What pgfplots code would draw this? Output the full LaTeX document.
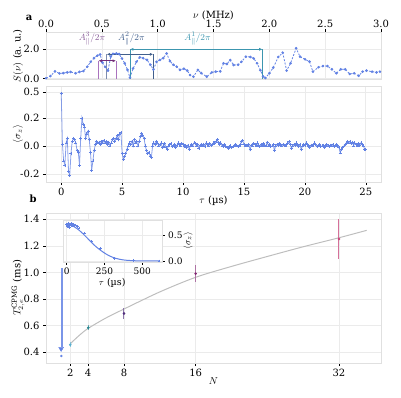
\documentclass[border=0pt]{standalone}
\usepackage{fontspec}
\setmainfont{DejaVu Serif}
\usepackage{pgfplots}
\pgfplotsset{compat=1.18}
\usetikzlibrary{arrows.meta}
\definecolor{cblue}{RGB}{98,130,228}
\definecolor{aone}{RGB}{60,150,175}
\definecolor{atwo}{RGB}{65,95,140}
\definecolor{atwol}{RGB}{125,140,175}
\definecolor{athree}{RGB}{115,45,120}
\definecolor{athreel}{RGB}{170,115,190}
\definecolor{ntwo}{RGB}{90,175,205}
\definecolor{nfour}{RGB}{40,135,145}
\definecolor{neight}{RGB}{80,45,125}
\definecolor{nsixteen}{RGB}{130,40,115}
\definecolor{nthirtytwo}{RGB}{200,65,120}
\definecolor{fitgray}{RGB}{190,190,190}
\begin{document}
\begin{tikzpicture}
\path[use as bounding box] (0pt,0pt) rectangle (401pt,397pt);
\pgfplotsset{myaxis/.style={scale only axis,
  axis line style={draw=black!12},
  grid=major, grid style={draw=black!8, line width=0.6pt},
  tick align=outside, major tick length=3pt,
  major tick style={black, line width=0.5pt},
  tick label style={font=\fontsize{10}{12}\selectfont},
  label style={font=\fontsize{10}{12}\selectfont},
  /pgf/number format/assume math mode=true,
  xtick pos=left, ytick pos=left}}
% ---------------- a: spectrum
\begin{axis}[myaxis, at={(46pt,317.5pt)}, anchor=south west, width=335pt, height=47.5pt,
  xmin=0, xmax=3, ymin=-0.054, ymax=3.18,
  xtick={0,0.5,1,1.5,2,2.5,3}, xticklabels={0.0,0.5,1.0,1.5,2.0,2.5,3.0},
  xtick pos=right, xticklabel pos=right,
  xticklabel style={yshift=-2.5pt},
  ytick={0,2}, yticklabels={0.0,2.0},
  xlabel={$\nu$ (MHz)}, ylabel={$S(\nu)$ (a.\ u.)},
  xlabel style={yshift=-7pt},
  ylabel style={at={(axis description cs:-0.0836,0.5)}, anchor=center},
  clip=false]
\addplot[cblue, line width=0.8pt, dash pattern=on 2pt off 1.5pt, mark=*, mark size=0.9pt, mark options={solid}] table {
0.00 0.03
0.04 0.18
0.08 0.50
0.12 0.36
0.155 0.38
0.19 0.43
0.22 0.46
0.265 0.37
0.30 0.47
0.335 0.52
0.37 0.82
0.40 1.15
0.43 1.40
0.46 1.57
0.485 1.65
0.505 1.10
0.53 0.80
0.555 0.55
0.58 1.50
0.60 1.70
0.63 1.72
0.655 1.68
0.68 1.38
0.705 1.05
0.73 0.60
0.752 0.08
0.78 0.70
0.81 1.15
0.84 1.45
0.87 1.40
0.905 1.28
0.935 0.95
0.962 0.62
0.99 1.15
1.02 1.28
1.05 1.40
1.08 1.72
1.11 1.20
1.14 0.95
1.17 0.82
1.20 0.60
1.235 0.68
1.265 0.55
1.29 0.25
1.32 0.14
1.36 0.60
1.39 0.38
1.44 0.14
1.485 0.43
1.52 0.48
1.56 0.50
1.59 1.05
1.62 1.00
1.65 1.27
1.68 0.93
1.72 0.95
1.75 1.15
1.79 1.50
1.83 1.48
1.86 1.38
1.89 1.05
1.92 0.58
1.945 0.15
1.965 0.05
2.00 0.37
2.035 0.75
2.08 1.48
2.12 1.77
2.155 0.55
2.19 1.05
2.24 2.07
2.275 1.50
2.32 1.32
2.36 1.16
2.39 0.48
2.44 0.78
2.48 0.86
2.52 0.86
2.56 0.64
2.60 0.37
2.64 0.64
2.68 0.64
2.72 0.32
2.76 0.37
2.80 0.20
2.835 0.48
2.87 0.55
2.92 0.48
2.96 0.43
2.99 0.48
};
% A1
\addplot[aone, line width=0.8pt] coordinates {(0.752,0) (0.752,2.0)};
\addplot[aone, line width=0.8pt] coordinates {(1.94,0) (1.94,2.0)};
\addplot[aone, line width=0.8pt, {Latex[length=3.5pt,width=3pt]}-{Latex[length=3.5pt,width=3pt]}] coordinates {(0.752,2.0) (1.94,2.0)};
% A2
\addplot[atwol, line width=0.8pt] coordinates {(0.543,0) (0.543,1.66)};
\addplot[atwo, line width=0.8pt] coordinates {(0.961,0) (0.961,1.66)};
\addplot[atwo, line width=0.8pt, {Latex[length=3.5pt,width=3pt]}-{Latex[length=3.5pt,width=3pt]}] coordinates {(0.543,1.66) (0.961,1.66)};
% A3
\addplot[athreel, line width=0.8pt] coordinates {(0.469,0) (0.469,1.22)};
\addplot[athreel, line width=0.8pt] coordinates {(0.627,0) (0.627,1.22)};
\addplot[athree, line width=0.8pt, {Latex[length=3.5pt,width=3pt]}-{Latex[length=3.5pt,width=3pt]}] coordinates {(0.469,1.22) (0.627,1.22)};
\node[athreel!80!black, inner sep=0pt, font=\fontsize{9.5}{11}\selectfont] at (axis cs:0.412,2.72) {$A_\parallel^3/2\pi$};
\node[atwo, inner sep=0pt, font=\fontsize{9.5}{11}\selectfont] at (axis cs:0.765,2.72) {$A_\parallel^2/2\pi$};
\node[aone, inner sep=0pt, font=\fontsize{9.5}{11}\selectfont] at (axis cs:1.357,2.72) {$A_\parallel^1/2\pi$};
\end{axis}
% ---------------- a: time trace
\begin{axis}[myaxis, at={(46pt,215pt)}, anchor=south west, width=335pt, height=96pt,
  xmin=-1.25, xmax=26.25, ymin=-0.276, ymax=0.603,
  y coord trafo/.code={\pgfmathparse{0.23*ln(#1/0.23+sqrt((#1/0.23)*(#1/0.23)+1))}},
  y coord inv trafo/.code={\pgfmathparse{0.23*sinh(#1/0.23)}},
  xtick={0,5,10,15,20,25},
  ytick={-0.2,0,0.2,0.5}, yticklabels={-0.2,0.0,0.2,0.5},
  xlabel={$\tau$ (µs)}, ylabel={$\langle\sigma_z\rangle$},
  xlabel style={yshift=7pt},
  ylabel style={at={(axis description cs:-0.0836,0.5)}, anchor=center}]
\addplot[cblue, line width=0.8pt, draw opacity=0.75, mark=+, mark size=1.5pt, mark options={line width=0.7pt, draw opacity=1}] table {
0.0 0.48
0.1 0.01
0.2 -0.10
0.3 -0.13
0.4 0.02
0.5 0.05
0.6 -0.18
0.7 -0.21
0.8 -0.05
0.9 0.03
1.0 0.05
1.1 0.04
1.2 0.02
1.3 -0.03
1.4 -0.04
1.5 -0.13
1.6 0.05
1.7 0.20
1.8 0.15
1.9 0.13
2.0 0.05
2.1 0.08
2.2 0.10
2.3 0.04
2.4 -0.04
2.5 -0.17
2.6 -0.10
2.7 -0.03
2.8 0.01
2.9 0.03
3.0 0.02
3.1 0.025
3.2 0.01
3.3 0.03
3.4 0.02
3.5 0.035
3.6 0.02
3.7 0.03
3.8 0.01
3.9 0.025
4.0 0.00
4.1 0.02
4.2 0.04
4.3 0.05
4.4 0.03
4.5 0.05
4.6 0.07
4.7 0.04
4.8 0.08
4.9 0.09
5.0 -0.05
5.1 -0.09
5.2 -0.07
5.3 -0.05
5.4 -0.02
5.5 0.00
5.6 0.02
5.7 0.01
5.8 0.03
5.9 0.00
6.0 0.04
6.1 0.02
6.2 0.03
6.3 0.00
6.4 0.03
6.5 0.06
6.6 0.085
6.7 0.07
6.8 0.05
6.9 0.00
7.0 -0.03
7.1 -0.05
7.2 -0.04
7.3 -0.065
7.4 -0.075
7.5 0.00
7.6 0.02
7.7 0.01
7.8 0.03
7.9 0.02
8.0 0.00
8.1 0.01
8.2 0.02
8.3 -0.01
8.4 0.00
8.5 0.015
8.6 -0.01
8.7 -0.02
8.8 0.00
8.9 0.01
9.0 0.015
9.1 -0.005
9.2 0.00
9.3 0.01
9.4 -0.01
9.5 0.005
9.6 0.02
9.7 0.01
9.8 0.00
9.9 0.015
10.0 0.01
10.1 -0.005
10.2 0.00
10.3 -0.01
10.4 0.005
10.5 -0.02
10.6 0.00
10.7 0.01
10.8 0.00
10.9 0.02
11.0 0.015
11.1 0.00
11.2 0.01
11.3 -0.015
11.4 0.005
11.5 0.01
11.6 0.00
11.7 0.01
11.8 -0.005
11.9 0.02
12.0 0.01
12.1 0.00
12.2 0.015
12.3 0.005
12.4 0.01
12.5 0.02
12.6 0.015
12.7 0.03
12.8 0.04
12.9 0.025
13.0 0.01
13.1 0.02
13.2 0.00
13.3 -0.005
13.4 0.01
13.5 0.00
13.6 -0.01
13.7 -0.015
13.8 -0.005
13.9 0.00
14.0 -0.01
14.1 -0.005
14.2 0.00
14.3 0.01
14.4 0.005
14.5 -0.005
14.6 0.00
14.7 0.01
14.8 0.03
14.9 0.035
15.0 0.01
15.1 0.00
15.2 0.005
15.3 0.00
15.4 0.01
15.5 -0.025
15.6 0.005
15.7 0.00
15.8 0.015
15.9 0.01
16.0 0.00
16.1 0.02
16.2 0.005
16.3 -0.005
16.4 0.01
16.5 0.00
16.6 0.015
16.7 0.005
16.8 0.00
16.9 0.025
17.0 0.00
17.1 0.01
17.2 -0.005
17.3 0.00
17.4 0.01
17.5 -0.03
17.6 0.00
17.7 0.01
17.8 0.005
17.9 0.015
18.0 0.01
18.1 0.00
18.2 0.01
18.3 0.005
18.4 0.00
18.5 0.01
18.6 0.02
18.7 0.03
18.8 0.01
18.9 -0.015
19.0 0.00
19.1 0.01
19.2 0.005
19.3 0.02
19.4 0.01
19.5 -0.005
19.6 0.01
19.7 -0.025
19.8 0.00
19.9 0.01
20.0 0.005
20.1 0.02
20.2 0.01
20.3 0.00
20.4 -0.01
20.5 0.005
20.6 0.00
20.7 0.01
20.8 0.02
20.9 0.01
21.0 -0.005
21.1 0.00
21.2 0.01
21.3 -0.005
21.4 0.00
21.5 0.005
21.6 -0.01
21.7 0.00
21.8 0.01
21.9 0.00
22.0 -0.005
22.1 0.005
22.2 0.00
22.3 0.01
22.4 -0.005
22.5 0.00
22.6 0.01
22.7 0.005
22.8 -0.01
22.9 -0.045
23.0 -0.02
23.1 -0.01
23.2 0.00
23.3 0.01
23.4 0.02
23.5 0.03
23.6 0.02
23.7 0.03
23.8 0.015
23.9 0.025
24.0 0.00
24.1 0.02
24.2 0.01
24.3 0.00
24.4 0.015
24.5 0.005
24.6 0.02
24.7 0.01
24.8 0.00
24.9 -0.02
25.0 -0.025
};
\end{axis}
% ---------------- b
\begin{axis}[myaxis, at={(46pt,34pt)}, anchor=south west, width=335pt, height=150.3pt,
  xmin=-0.71, xmax=36.7, ymin=0.317, ymax=1.45,
  xtick={2,4,8,16,32},
  ytick={0.4,0.6,0.8,1.0,1.2,1.4}, yticklabels={0.4,0.6,0.8,1.0,1.2,1.4},
  xlabel={$N$}, ylabel={$T_{2,e}^{\mathrm{CPMG}}$ (ms)},
  xlabel style={yshift=6pt},
  ylabel style={at={(axis description cs:-0.0836,0.5)}, anchor=center}]
\addplot[fitgray, line width=1pt, smooth] coordinates {
(2,0.462)(3,0.525)(4,0.578)(6,0.657)(8,0.724)(12,0.853)(16,0.963)(20,1.045)(24,1.12)(28,1.193)(32,1.261)(35.1,1.317)};
\addplot[draw=cblue!85!white, mark=none, line width=1.2pt] coordinates {(1.07,1.03) (1.07,0.44)};
\addplot[color=cblue, only marks, mark=triangle*, mark size=2.8pt, mark options={rotate=180, fill=cblue, draw=cblue}] coordinates {(0.98,0.425)};
\addplot[cblue, only marks, mark=*, mark size=1pt] coordinates {(1,0.37)};
\addplot[ntwo, only marks, mark=*, mark size=1.1pt, error bars/.cd, y dir=both, y explicit, error bar style={line width=1pt, ntwo!70}, error mark=none] coordinates {(2,0.455) +- (0,0.02)};
\addplot[nfour, only marks, mark=*, mark size=1.1pt, error bars/.cd, y dir=both, y explicit, error bar style={line width=1pt, nfour!70}, error mark=none] coordinates {(4,0.583) +- (0,0.017)};
\addplot[neight, only marks, mark=*, mark size=1.1pt, error bars/.cd, y dir=both, y explicit, error bar style={line width=1pt, neight!65}, error mark=none] coordinates {(8,0.69) +- (0,0.038)};
\addplot[nsixteen, only marks, mark=*, mark size=1.1pt, error bars/.cd, y dir=both, y explicit, error bar style={line width=1pt, nsixteen!65}, error mark=none] coordinates {(16,0.99) +- (0,0.065)};
\addplot[nthirtytwo, only marks, mark=*, mark size=1.1pt, error bars/.cd, y dir=both, y explicit, error bar style={line width=1pt, nthirtytwo!75}, error mark=none] coordinates {(32,1.252) +- (0,0.15)};
\end{axis}
% ---------------- inset
\begin{axis}[myaxis, at={(62.7pt,135.3pt)}, anchor=south west, width=99pt, height=41.7pt,
  axis background/.style={fill=white},
  xmin=-26, xmax=628, ymin=-0.014, ymax=0.81,
  xtick={0,250,500}, ytick={0,0.5}, yticklabels={0.0,0.5},
  ytick pos=right, yticklabel pos=right,
  tick label style={font=\fontsize{9}{11}\selectfont},
  label style={font=\fontsize{9.5}{11}\selectfont},
  xlabel={$\tau$ (µs)}, ylabel={$\langle\sigma_z\rangle$},
  xlabel style={yshift=4pt},
  ylabel style={at={(axis description cs:1.266,0.5)}, anchor=center}]
\addplot[cblue, line width=1pt, smooth] coordinates {
(0,0.72)(25,0.709)(50,0.676)(75,0.626)(100,0.561)(125,0.488)(150,0.411)(175,0.335)(200,0.268)(225,0.210)(250,0.158)(275,0.113)(300,0.078)(325,0.052)(350,0.034)(375,0.021)(400,0.013)(450,0.005)(500,0.002)(550,0.001)(610,0.0)};
\addplot[cblue, only marks, mark=+, mark size=1.3pt, mark options={line width=0.6pt}] coordinates {
(0,0.72)(4,0.68)(8,0.75)(12,0.70)(16,0.73)(20,0.66)(24,0.72)(28,0.70)(32,0.74)(36,0.69)(40,0.71)(46,0.72)(52,0.70)(60,0.71)(70,0.68)(82,0.65)(118,0.55)(163,0.38)(225,0.245)(315,0.05)(440,0.005)(610,0.0)};
\end{axis}
\node[font=\bfseries\fontsize{10}{12}\selectfont] at (29pt,379pt) {a};
\node[font=\bfseries\fontsize{10}{12}\selectfont] at (33pt,198pt) {b};
\end{tikzpicture}
\end{document}
